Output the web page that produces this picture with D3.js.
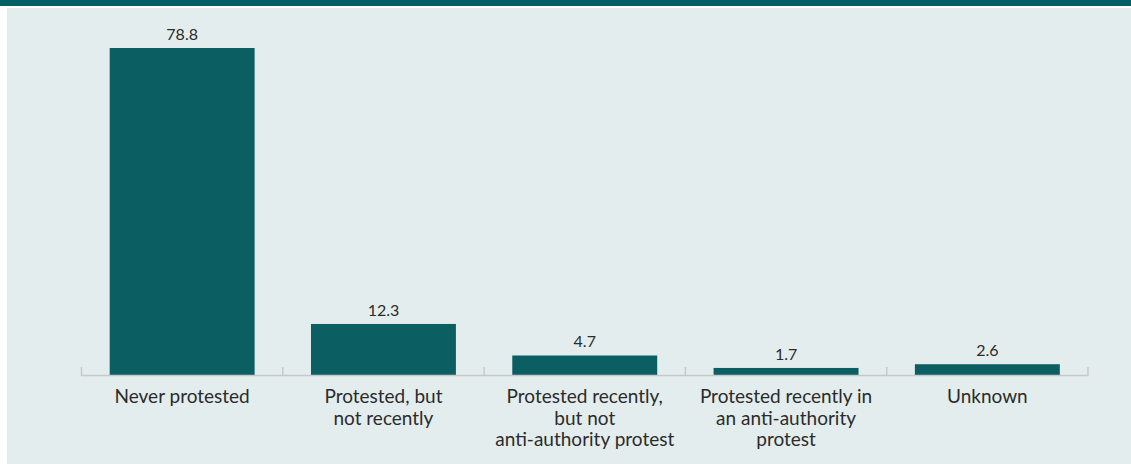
<!DOCTYPE html>
<html>
<head>
<meta charset="utf-8">
<script src="https://cdn.jsdelivr.net/npm/d3@7"></script>
<style>
  html, body { margin: 0; padding: 0; background: #ffffff; }
  svg { display: block; }
</style>
</head>
<body>
<svg id="chart" width="1131" height="464"></svg>
<script>
// Protest participation shares (%)
const categories = [
  ["Never protested"],
  ["Protested, but", "not recently"],
  ["Protested recently,", "but not", "anti-authority protest"],
  ["Protested recently in", "an anti-authority", "protest"],
  ["Unknown"]
];
const values = [78.8, 12.3, 4.7, 1.7, 2.6];
const valueLabels = ["78.8", "12.3", "4.7", "1.7", "2.6"];

const W = 1131, H = 464;
const svg = d3.select("#chart");

// header strip and panel background
svg.append("rect").attr("x", 0).attr("y", 0).attr("width", W).attr("height", 6).attr("fill", "#035f63");
svg.append("rect").attr("x", 7).attr("y", 8).attr("width", W - 7).attr("height", H - 8).attr("fill", "#e4edee");

const x = d3.scaleBand()
  .domain(d3.range(categories.length))
  .range([81.5, 1088])
  .paddingInner(0.28)
  .paddingOuter(0.14);

const y = d3.scaleLinear().domain([0, 78.8]).range([375, 48]);

// bars
svg.append("g").selectAll("rect")
  .data(values)
  .join("rect")
  .attr("x", (d, i) => x(i))
  .attr("width", x.bandwidth())
  .attr("y", d => y(d))
  .attr("height", d => y(0) - y(d))
  .attr("fill", "#0b5f62");

// value labels
svg.append("g").selectAll("text")
  .data(values)
  .join("text")
  .attr("x", (d, i) => x(i) + x.bandwidth() / 2)
  .attr("y", d => y(d) - 8)
  .attr("text-anchor", "middle")
  .attr("font-family", "Lato, 'Open Sans', sans-serif")
  .attr("font-size", 16)
  .attr("fill", "#2b2b2b")
  .text((d, i) => valueLabels[i]);

// category axis: baseline with upward ticks at band boundaries
const step = x.step();
const x0 = 81.5;
const axis = svg.append("g");
axis.append("line")
  .attr("x1", x0).attr("x2", 1088)
  .attr("y1", 375.5).attr("y2", 375.5)
  .attr("stroke", "#c6c9ca").attr("stroke-width", 1.5);
axis.selectAll("line.tick")
  .data(d3.range(categories.length + 1))
  .join("line")
  .attr("class", "tick")
  .attr("x1", i => x0 + i * step).attr("x2", i => x0 + i * step)
  .attr("y1", 367).attr("y2", 376)
  .attr("stroke", "#c6c9ca").attr("stroke-width", 1.5);

const labels = axis.selectAll("text.cat")
  .data(categories)
  .join("text")
  .attr("class", "cat")
  .attr("text-anchor", "middle")
  .attr("font-family", "Lato, 'Open Sans', sans-serif")
  .attr("font-size", 19)
  .attr("fill", "#2b2b2b");
labels.each(function(lines, i) {
  const t = d3.select(this);
  lines.forEach((line, k) => {
    t.append("tspan")
      .attr("x", x(i) + x.bandwidth() / 2)
      .attr("y", 403 + k * 21.5)
      .text(line);
  });
});
</script>
</body>
</html>
